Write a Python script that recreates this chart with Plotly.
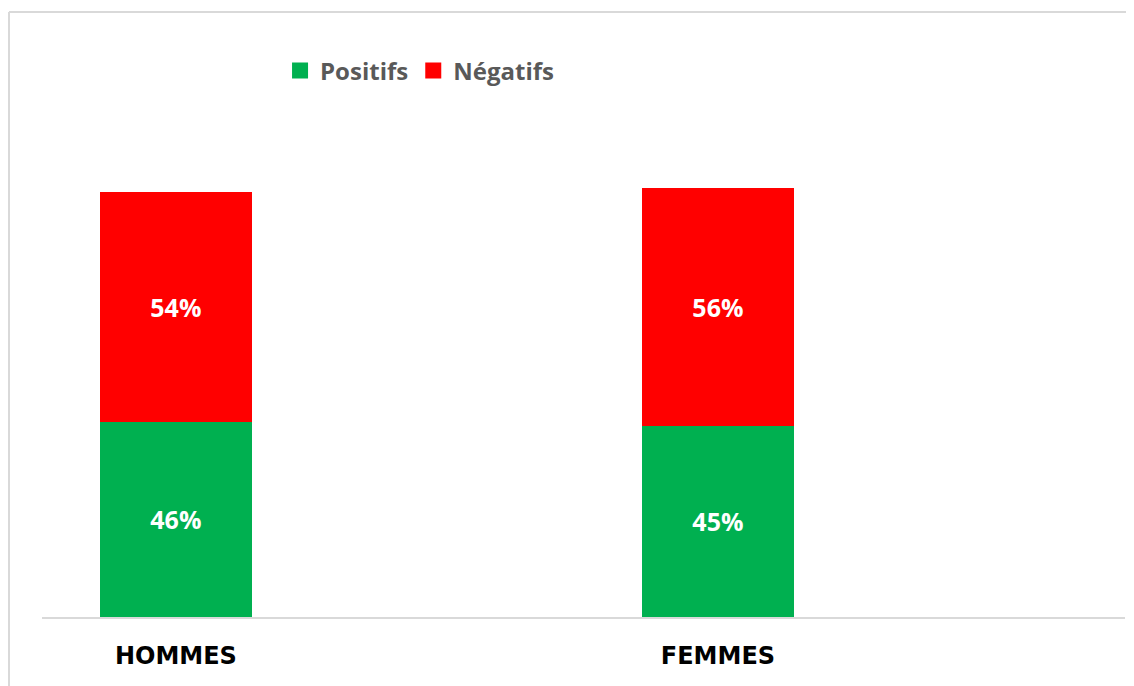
import plotly.graph_objects as go

categories = ["HOMMES", "FEMMES"]
positifs = [46, 45]
negatifs = [54, 56]
labels_pos = ["46%", "45%"]
labels_neg = ["54%", "56%"]
series_names = ["Positifs", "Négatifs"]

GREEN = "#00B050"
RED = "#FF0000"
FONT = "Open Sans"

fig = go.Figure()
fig.add_trace(go.Bar(
    x=categories, y=positifs, name=series_names[0], marker_color=GREEN,
    marker_line_width=0, width=0.2805, showlegend=False,
    text=labels_pos, textposition="inside", insidetextanchor="middle",
    textfont=dict(family=FONT, size=25, color="white", weight="bold"),
    hoverinfo="skip",
))
fig.add_trace(go.Bar(
    x=categories, y=negatifs, name=series_names[1], marker_color=RED,
    marker_line_width=0, width=0.2805, showlegend=False,
    text=labels_neg, textposition="inside", insidetextanchor="middle",
    textfont=dict(family=FONT, size=25, color="white", weight="bold"),
    hoverinfo="skip",
))
# legend entries with larger square symbols
for nm, col in zip(series_names, [GREEN, RED]):
    fig.add_trace(go.Scatter(
        x=[None], y=[None], mode="markers", name=nm,
        marker=dict(symbol="square", size=20, color=col),
        showlegend=True, hoverinfo="skip",
    ))

fig.update_layout(
    barmode="stack",
    width=1134, height=686,
    margin=dict(l=34, r=17, t=99, b=77),
    paper_bgcolor="white", plot_bgcolor="white",
    uniformtext=dict(mode=False),
    legend=dict(
        orientation="h", x=0.2198, xanchor="left", y=1.0706, yanchor="middle",
        font=dict(family=FONT, size=24, color="#595959", weight="bold"),
        itemsizing="trace", traceorder="normal",
        bgcolor="rgba(0,0,0,0)",
    ),
    xaxis=dict(
        type="category", range=[-0.247, 1.751],
        showline=True, linecolor="#d9d9d9", linewidth=2,
        showgrid=False, ticks="",
        tickfont=dict(family="DejaVu Sans", size=24, color="black", weight="bold"),
        ticklabelstandoff=16,
    ),
    yaxis=dict(range=[0, 120], visible=False, showgrid=False),
    showlegend=True,
    shapes=[
        dict(type="line", xref="paper", yref="paper",
             x0=(9 - 42) / 1083, x1=1.2, y0=(617 - 12) / 510, y1=(617 - 12) / 510,
             line=dict(color="#d9d9d9", width=2)),
        dict(type="line", xref="paper", yref="paper",
             x0=(9 - 42) / 1083, x1=(9 - 42) / 1083, y0=(617 - 12) / 510, y1=-0.5,
             line=dict(color="#d9d9d9", width=2)),
    ],
)

fig.write_html("out.html")
